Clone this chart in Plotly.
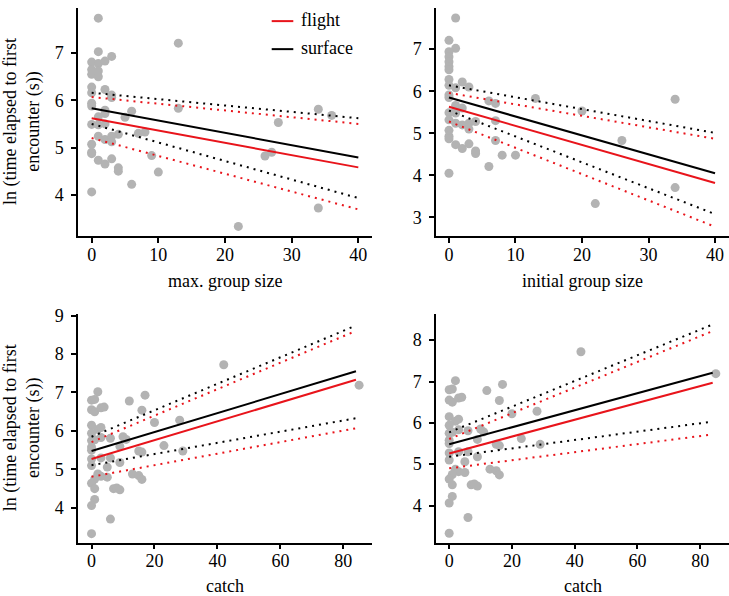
import plotly.graph_objects as go

# ---------------- data ----------------
# Panel A: max. group size
maxgs_x = [1, 13, 1, 3, 0, 1, 2, 0, 0, 1, 1, 0, 2, 0, 3, 3, 0, 0, 13, 2, 2, 5, 6, 1, 0, 1, 2,
           7, 8, 4, 1, 2, 3, 3, 0, 0, 0, 9, 1, 2, 3, 4, 4, 10, 6, 0, 22, 26, 27, 28, 34, 34, 36]
maxgs_y = [7.74, 7.21, 7.03, 6.93, 6.81, 6.78, 6.83, 6.65, 6.55, 6.62, 6.50, 6.28, 6.23, 6.16,
           6.11, 6.06, 5.94, 5.88, 5.83, 5.79, 5.72, 5.64, 5.77, 5.65, 5.49, 5.48, 5.50,
           5.30, 5.33, 5.28, 5.24, 5.17, 5.24, 5.12, 5.07, 4.90, 4.87, 4.83, 4.73, 4.65, 4.76,
           4.57, 4.50, 4.48, 4.22, 4.06, 3.33, 4.82, 4.90, 5.53, 5.81, 3.72, 5.68]

# Panel B: initial group size
initgs_x = [1, 0, 1, 0, 0, 0, 0, 0, 0, 2, 0, 3, 1, 0, 0, 13, 34, 6, 7, 1, 2, 1, 0, 1, 0,
            1, 2, 3, 3, 4, 7, 20, 0, 0, 0, 7, 26, 1, 2, 3, 4, 4, 8, 10, 6, 0, 22, 34]
initgs_y = [7.74, 7.21, 7.02, 6.94, 6.82, 6.70, 6.59, 6.51, 6.28, 6.22, 6.14, 6.10, 6.08, 5.91,
            5.85, 5.83, 5.81, 5.77, 5.71, 5.66, 5.60, 5.55, 5.49, 5.48, 5.32, 5.24, 5.20,
            5.24, 5.10, 5.28, 5.30, 5.53, 5.07, 4.93, 4.87, 4.83, 4.83, 4.73, 4.64, 4.75,
            4.58, 4.52, 4.48, 4.48, 4.21, 4.05, 3.33, 3.71]

# Panels C and D: catch
catch_x = [42, 85, 2, 0, 1, 17, 12, 0, 1, 3, 4, 16, 0, 2, 3, 20, 28, 0, 0, 1, 3, 6, 10, 11,
           0, 0, 9, 15, 16, 23, 29, 0, 3, 6, 0, 5, 9, 2, 3, 1, 5, 13, 15, 16, 0, 1, 7, 8, 9,
           1, 0, 6, 0]
catch_y = [7.72, 7.19, 7.02, 6.80, 6.82, 6.93, 6.78, 6.55, 6.50, 6.60, 6.62, 6.54, 6.15, 6.04,
           6.09, 6.22, 6.28, 5.94, 5.75, 5.77, 5.83, 5.81, 5.85, 5.78, 5.58, 5.50, 5.60,
           5.48, 5.45, 5.62, 5.48, 5.27, 5.30, 5.30, 5.10, 5.06, 5.18, 4.88, 4.82, 4.75,
           4.80, 4.88, 4.84, 4.74, 4.64, 4.50, 4.50, 4.52, 4.47, 4.22, 4.06, 3.71, 3.33]

# regression lines (x endpoints, then fit / lower / upper for each model)
ab_line_x = [0, 40]
a_flight = [5.62, 4.58]; a_flight_lo = [5.20, 3.69]; a_flight_hi = [6.07, 5.50]
a_surf = [5.83, 4.79];   a_surf_lo = [5.50, 3.93];   a_surf_hi = [6.16, 5.62]
b_flight = [5.63, 3.82]; b_flight_lo = [5.28, 2.78]; b_flight_hi = [5.96, 4.87]
b_surf = [5.85, 4.05];   b_surf_lo = [5.54, 3.08];   b_surf_hi = [6.14, 5.01]
cd_line_x = [0, 84]
c_flight = [5.27, 7.33]; c_flight_lo = [4.81, 6.07]; c_flight_hi = [5.71, 8.60]
c_surf = [5.48, 7.55];   c_surf_lo = [5.11, 6.33];   c_surf_hi = [5.85, 8.74]
d_flight = [5.26, 6.97]; d_flight_lo = [4.90, 5.72]; d_flight_hi = [5.61, 8.22]
d_surf = [5.48, 7.21];   d_surf_lo = [5.18, 6.03];   d_surf_hi = [5.77, 8.38]

xlabels = ["max. group size", "initial group size", "catch", "catch"]
ytitle = "ln (time elapsed to first<br>encounter (s))"
legend_names = ["flight", "surface"]

# ---------------- figure ----------------
W, H = 729, 596
FONT = "'Liberation Serif', 'DejaVu Serif', 'Times New Roman', serif"
RED = "#e8141b"
GREY = "#b3b3b3"
DOT = "2px,5px"
FS = 18

fig = go.Figure()

panels = [
    (maxgs_x, maxgs_y, ab_line_x, a_flight, a_flight_lo, a_flight_hi, a_surf, a_surf_lo, a_surf_hi),
    (initgs_x, initgs_y, ab_line_x, b_flight, b_flight_lo, b_flight_hi, b_surf, b_surf_lo, b_surf_hi),
    (catch_x, catch_y, cd_line_x, c_flight, c_flight_lo, c_flight_hi, c_surf, c_surf_lo, c_surf_hi),
    (catch_x, catch_y, cd_line_x, d_flight, d_flight_lo, d_flight_hi, d_surf, d_surf_lo, d_surf_hi),
]

for i, (px, py, lx, fl, fllo, flhi, sf, sflo, sfhi) in enumerate(panels):
    xa = "x" if i == 0 else f"x{i+1}"
    ya = "y" if i == 0 else f"y{i+1}"
    fig.add_trace(go.Scatter(x=px, y=py, mode="markers", xaxis=xa, yaxis=ya,
                             marker=dict(color=GREY, size=9, line=dict(width=0)),
                             showlegend=False))
    for vals in (sflo, sfhi):
        fig.add_trace(go.Scatter(x=lx, y=vals, mode="lines", xaxis=xa, yaxis=ya,
                                 line=dict(color="black", width=2, dash=DOT), showlegend=False))
    for vals in (fllo, flhi):
        fig.add_trace(go.Scatter(x=lx, y=vals, mode="lines", xaxis=xa, yaxis=ya,
                                 line=dict(color=RED, width=2, dash=DOT), showlegend=False))
    fig.add_trace(go.Scatter(x=lx, y=fl, mode="lines", xaxis=xa, yaxis=ya, name="flight",
                             line=dict(color=RED, width=2), showlegend=False))
    fig.add_trace(go.Scatter(x=lx, y=sf, mode="lines", xaxis=xa, yaxis=ya, name="surface",
                             line=dict(color="black", width=2), showlegend=False))

xdom = [[78 / W, 372 / W], [436 / W, 1.0], [78 / W, 372 / W], [436 / W, 1.0]]
ydom = [[1 - 231.5 / H, 1.0], [1 - 231.5 / H, 1.0], [1 - 542 / H, 1 - 310 / H], [1 - 542 / H, 1 - 310 / H]]
xr = [[-2.05, 42.05], [-1.95, 42.1], [-4.3, 89.1], [-4.2, 89.2]]
yr = [[3.118, 7.955], [2.55, 7.978], [3.095, 9.044], [3.10, 8.637]]
xticks = [[0, 10, 20, 30, 40], [0, 10, 20, 30, 40], [0, 20, 40, 60, 80], [0, 20, 40, 60, 80]]
yticks = [[4, 5, 6, 7], [3, 4, 5, 6, 7], [4, 5, 6, 7, 8, 9], [4, 5, 6, 7, 8]]

axis_common = dict(showgrid=False, zeroline=False, showline=True, linecolor="black", linewidth=1.5,
                   ticks="outside", ticklen=5, tickwidth=1.5, tickcolor="black",
                   tickfont=dict(family=FONT, size=FS, color="black"), tickmode="array")

layout = {}
for i in range(4):
    xk = "xaxis" if i == 0 else f"xaxis{i+1}"
    yk = "yaxis" if i == 0 else f"yaxis{i+1}"
    ya = "y" if i == 0 else f"y{i+1}"
    xa = "x" if i == 0 else f"x{i+1}"
    layout[xk] = dict(axis_common, domain=xdom[i], range=xr[i], tickvals=xticks[i], anchor=ya,
                      ticklabelstandoff=-4)
    layout[yk] = dict(axis_common, domain=ydom[i], range=yr[i], tickvals=yticks[i], anchor=xa,
                      ticklabelstandoff=4)

annotations = []
for i in range(4):
    cx = (xdom[i][0] + xdom[i][1]) / 2
    ypix = 277 if i < 2 else 586
    annotations.append(dict(text=xlabels[i], xref="paper", yref="paper", x=cx, y=1 - ypix / H,
                            xanchor="center", yanchor="middle", showarrow=False,
                            font=dict(family=FONT, size=FS, color="black")))
for ycen in (115.5, 426):
    annotations.append(dict(text=ytitle, xref="paper", yref="paper", x=22 / W, y=1 - ycen / H,
                            xanchor="center", yanchor="middle", showarrow=False, textangle=-90,
                            font=dict(family=FONT, size=FS, color="black")))

# manual legend (key lines + labels) in the top-left panel
shapes = []
for name, col, ypx in zip(legend_names, [RED, "black"], [13.3, 41.7]):
    shapes.append(dict(type="line", xref="paper", yref="paper", x0=271.7 / W, x1=293.3 / W,
                       y0=1 - ypx / H, y1=1 - ypx / H, line=dict(color=col, width=2)))
    annotations.append(dict(text=name, xref="paper", yref="paper", x=299 / W, y=1 - (ypx - 1) / H,
                            xanchor="left", yanchor="middle", showarrow=False,
                            font=dict(family=FONT, size=FS, color="black")))

fig.update_layout(
    width=W, height=H, margin=dict(l=0, r=0, t=0, b=0),
    paper_bgcolor="white", plot_bgcolor="white",
    annotations=annotations, shapes=shapes, showlegend=False,
    **layout,
)

fig.write_html("out.html", config={"displayModeBar": False},
               post_script="document.body.style.margin='0';document.body.style.padding='0';")
